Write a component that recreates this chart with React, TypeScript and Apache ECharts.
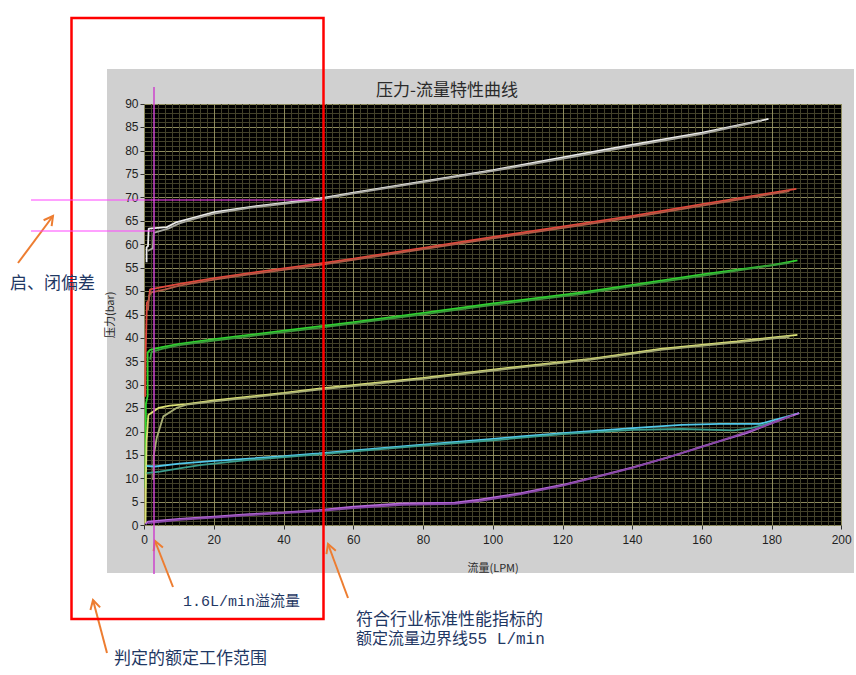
import { useEffect, useRef } from "react";
import * as echarts from "echarts";

// pressure (bar) vs flow (LPM), two strands per setting (rising / falling)
const whiteUp = [[0.6, 56.2], [0.6, 59.4], [1.0, 59.6], [1.2, 63.4], [6.4, 63.7], [9, 64.7], [12, 65.3], [20, 66.9], [30, 68.0], [40, 68.9], [50, 69.8], [60, 71.1], [80, 73.5], [100, 75.9], [125, 79.3], [140, 81.3], [160, 83.9], [179, 86.8]];
const whiteDown = [[0.9, 58.6], [2.4, 59.2], [2.6, 62.5], [6.8, 63.4], [10, 64.5], [14, 65.4], [20, 66.6], [30, 67.8], [40, 68.7], [50, 69.6], [60, 70.9], [80, 73.3], [100, 75.7], [125, 79.0], [140, 81.0], [160, 83.6], [177, 86.4]];
const redUp = [[0.2, 27.5], [0.3, 36], [0.6, 44.7], [0.7, 47.6], [1.2, 48], [1.6, 50.4], [5, 50.9], [10, 51.6], [20, 52.8], [30, 53.9], [40, 54.9], [50, 55.9], [60, 57.0], [80, 59.3], [100, 61.6], [125, 64.4], [140, 66.1], [160, 68.6], [187, 71.9]];
const redDown = [[1.0, 46], [1.3, 49], [2.0, 49.8], [6, 50.4], [10, 51.2], [20, 52.5], [30, 53.6], [50, 55.6], [80, 59.0], [100, 61.3], [125, 64.1], [140, 65.8], [160, 68.3], [185, 71.4]];
const greenUp = [[0.3, 8], [0.4, 26], [0.9, 27.6], [0.9, 36.9], [1.6, 37.5], [5, 38.1], [10, 38.8], [20, 39.8], [30, 40.7], [40, 41.6], [50, 42.5], [60, 43.4], [80, 45.4], [100, 47.4], [125, 49.7], [140, 51.4], [160, 53.6], [180, 55.6], [187.3, 56.6]];
const greenDown = [[1.6, 35.4], [2, 37.0], [5, 37.7], [10, 38.5], [20, 39.5], [30, 40.4], [50, 42.2], [80, 45.1], [100, 47.1], [125, 49.4], [140, 51.1], [160, 53.3], [185, 56.1]];
const yellowUp = [[0.3, 0.5], [0.4, 10], [0.6, 18], [1.1, 23.6], [4, 25.1], [7.3, 25.6], [12, 25.9], [20, 26.7], [30, 27.5], [40, 28.3], [50, 29.2], [80, 31.5], [100, 33.3], [128, 35.6], [148, 37.7], [170, 39.3], [187.3, 40.7]];
const yellowDown = [[2.5, 9.7], [2.6, 14.7], [3.5, 18.7], [5.4, 23.3], [9.2, 25.1], [12.1, 25.8], [20, 26.5], [30, 27.3], [50, 29.0], [80, 31.3], [100, 33.1], [128, 35.4], [148, 37.5], [170, 39.1], [185, 40.3]];
const cyanUp = [[0.6, 12.7], [3, 12.6], [10, 13.2], [20, 13.8], [30, 14.3], [40, 14.8], [50, 15.4], [79, 17.2], [100, 18.5], [108, 19.0], [120, 19.7], [140, 20.8], [154, 21.5], [165, 21.7], [176.6, 21.7], [180, 22.4], [184, 23.2], [187.8, 24.0]];
const cyanDown = [[0.6, 11.2], [4.4, 11.5], [10, 12.2], [15.9, 12.9], [30, 14.0], [50, 15.2], [79, 17.0], [100, 18.2], [120, 19.5], [140, 20.4], [154, 20.6], [169, 20.3], [174, 20.8], [180, 22.0]];
const purpleUp = [[0.3, 0.3], [1, 0.8], [5, 1.1], [10, 1.4], [20, 1.9], [30, 2.4], [40, 2.8], [50, 3.3], [60, 4.0], [74, 4.7], [89, 4.9], [96, 5.5], [102, 6.2], [108, 6.9], [120, 8.7], [130, 10.5], [140, 12.4], [150, 14.5], [155.5, 15.8], [160, 16.9], [172.7, 19.7], [180, 21.9], [187.8, 24.0]];
const purpleDown = [[1, 0.5], [10, 1.2], [20, 1.7], [30, 2.2], [50, 3.1], [60, 3.7], [74, 4.4], [89, 4.6], [96, 5.2], [108, 6.7], [120, 8.5], [140, 12.3], [160, 16.8], [180, 21.8], [186, 23.6]];

const curves = [
  { data: whiteUp, color: "#ececec" },
  { data: whiteDown, color: "#a8a8a0" },
  { data: redUp, color: "#e0483c" },
  { data: redDown, color: "#b05a46" },
  { data: greenUp, color: "#2fd42f" },
  { data: greenDown, color: "#3a9a3a" },
  { data: yellowUp, color: "#dce276" },
  { data: yellowDown, color: "#a6ac74" },
  { data: cyanUp, color: "#52c8ea" },
  { data: cyanDown, color: "#3a9c8c" },
  { data: purpleUp, color: "#b468d8" },
  { data: purpleDown, color: "#8848a6" },
];

const ORANGE = "#ed7d31";
const NAVY = "#1f3864";
const CJK = "'Noto Sans CJK SC', sans-serif";
const MIXED = "'Liberation Mono', 'Noto Sans CJK SC', monospace";

const arrow = (x1: number, y1: number, x2: number, y2: number) => {
  const len = Math.hypot(x2 - x1, y2 - y1);
  const ux = (x2 - x1) / len;
  const uy = (y2 - y1) / len;
  const hl = 9;
  const hw = 5;
  const bx = x2 - ux * hl;
  const by = y2 - uy * hl;
  return {
    type: "group",
    z: 100,
    children: [
      { type: "line", shape: { x1, y1, x2, y2 }, style: { stroke: ORANGE, lineWidth: 2 } },
      {
        type: "polyline",
        shape: { points: [[bx - uy * hw, by + ux * hw], [x2, y2], [bx + uy * hw, by - ux * hw]] },
        style: { stroke: ORANGE, lineWidth: 2, fill: null },
      },
    ],
  };
};

const label = (text: string, x: number, y: number, size: number, font: string) => ({
  type: "text",
  z: 100,
  x,
  y,
  style: { text, fill: NAVY, fontSize: size, fontFamily: font, textVerticalAlign: "middle" },
});

export default function App() {
  const chartRef = useRef<HTMLDivElement>(null);

  useEffect(() => {
    if (!chartRef.current) return;
    const chart = echarts.init(chartRef.current, null, { renderer: "svg" });

    const axisText = { color: "#1e1e1e", fontSize: 12, fontFamily: "'Liberation Sans', Arial, sans-serif" };

    chart.setOption({
      animation: false,
      grid: {
        left: 144.5,
        right: 14.3,
        top: 104,
        bottom: 149.5,
        show: true,
        backgroundColor: "#000",
        borderWidth: 0,
      },
      xAxis: {
        type: "value",
        min: 0,
        max: 200,
        interval: 20,
        name: "流量(LPM)",
        nameLocation: "middle",
        nameGap: 36,
        nameTextStyle: { color: "#2a2a2a", fontSize: 11, fontFamily: CJK },
        axisLine: { show: false },
        axisTick: { show: true, length: 4, lineStyle: { color: "#333" } },
        axisLabel: { ...axisText, margin: 8 },
        splitLine: { show: true, lineStyle: { color: "#8c8a5c", width: 1 } },
        minorTick: { show: false, splitNumber: 10 },
        minorSplitLine: { show: true, lineStyle: { color: "#42412a", width: 1 } },
      },
      yAxis: {
        type: "value",
        min: 0,
        max: 90,
        interval: 5,
        name: "压力(bar)",
        nameLocation: "middle",
        nameGap: 30,
        nameRotate: 90,
        nameTextStyle: { color: "#2a2a2a", fontSize: 11, fontFamily: CJK },
        axisLine: { show: false },
        axisTick: { show: true, length: 4, lineStyle: { color: "#333" } },
        axisLabel: { ...axisText, margin: 6 },
        splitLine: { show: true, lineStyle: { color: "#8c8a5c", width: 1 } },
        minorTick: { show: false, splitNumber: 5 },
        minorSplitLine: { show: true, lineStyle: { color: "#42412a", width: 1 } },
      },
      series: curves.map((c) => ({
        type: "line",
        data: c.data,
        showSymbol: false,
        symbol: "none",
        silent: true,
        lineStyle: { color: c.color, width: 1.8 },
      })),
      graphic: [
        {
          type: "text",
          z: 100,
          x: 447,
          y: 88,
          style: {
            text: "压力-流量特性曲线",
            fill: "#2a2a2a",
            fontSize: 17,
            fontFamily: CJK,
            textAlign: "center",
            textVerticalAlign: "middle",
          },
        },
        {
          type: "rect",
          z: 100,
          shape: { x: 71.5, y: 18, width: 252, height: 601 },
          style: { stroke: "#ff0000", lineWidth: 2.5, fill: null },
        },
        { type: "line", z: 100, shape: { x1: 154, y1: 87, x2: 154, y2: 574 }, style: { stroke: "#cc44cc", lineWidth: 1.5 } },
        { type: "line", z: 100, shape: { x1: 31, y1: 200, x2: 322, y2: 200 }, style: { stroke: "#ff44ff", lineWidth: 1.2 } },
        { type: "line", z: 100, shape: { x1: 31, y1: 231, x2: 154, y2: 231 }, style: { stroke: "#ff44ff", lineWidth: 1.2 } },
        arrow(18, 263, 53, 216),
        arrow(173, 587, 155, 541),
        arrow(348, 598, 328, 544),
        arrow(107, 653, 93, 600),
        label("启、闭偏差", 10, 281, 17, CJK),
        label("1.6L/min溢流量", 183, 602, 15, MIXED),
        label("符合行业标准性能指标的", 356, 617, 17, CJK),
        label("额定流量边界线55 L/min", 356, 640, 16, MIXED),
        label("判定的额定工作范围", 114, 656, 17, CJK),
      ],
    });

    return () => chart.dispose();
  }, []);

  return (
    <div style={{ position: "fixed", left: 0, top: 0, width: 856, height: 675, background: "#fff" }}>
      <div
        style={{ position: "absolute", left: 107, top: 69, width: 747, height: 504, background: "#d0d0d0" }}
      />
      <div ref={chartRef} style={{ position: "absolute", left: 0, top: 0, width: 856, height: 675 }} />
    </div>
  );
}
